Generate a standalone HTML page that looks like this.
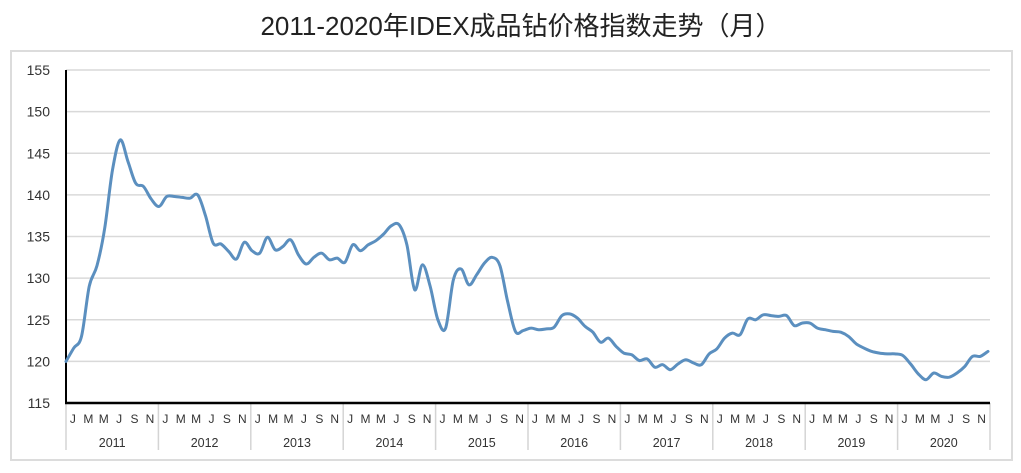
<!DOCTYPE html>
<html><head><meta charset="utf-8"><style>
html,body{margin:0;padding:0;background:#fff;}
svg{display:block;font-family:"Liberation Sans","Noto Sans CJK SC",sans-serif;}
</style></head><body>
<svg id="chart" width="1021" height="473" viewBox="0 0 1021 473" xmlns="http://www.w3.org/2000/svg">
<text x="521" y="35" text-anchor="middle" font-size="26" fill="#222">2011-2020年IDEX成品钻价格指数走势（月）</text>
<rect x="11" y="51" width="1001" height="409" fill="none" stroke="#dcdcdc" stroke-width="2"/>
<g id="grid"></g><g id="yticks"></g><g id="xaxis"></g><g id="series"></g>
</svg>
<script>
const years = ["2011","2012","2013","2014","2015","2016","2017","2018","2019","2020"];
const monthLabels = ["J","M","M","J","S","N"];
const yTicks = [115,120,125,130,135,140,145,150,155];
const values = [
120,121.6,123,129,131.5,136,143,146.6,144,141.4,141,139.5,
138.6,139.8,139.8,139.7,139.6,140,137.5,134.2,134.1,133.2,132.3,134.3,
133.3,133,134.9,133.4,133.8,134.6,132.8,131.7,132.5,133,132.2,132.4,
131.9,134,133.3,134,134.5,135.3,136.3,136.4,134,128.6,131.6,129,
125,124,129.8,131.1,129.2,130.4,131.8,132.5,131.5,127.2,123.6,123.7,
124,123.8,123.9,124.1,125.5,125.7,125.2,124.2,123.5,122.3,122.8,121.8,
121,120.8,120.1,120.3,119.3,119.6,119,119.7,120.2,119.8,119.6,120.9,
121.5,122.8,123.4,123.2,125.1,125,125.6,125.5,125.4,125.5,124.3,124.6,
124.6,124,123.8,123.6,123.5,123,122.1,121.6,121.2,121,120.9,120.9,
120.7,119.7,118.5,117.8,118.6,118.2,118.1,118.6,119.4,120.6,120.6,121.2];
const NS="http://www.w3.org/2000/svg";
const X0=66,X1=990,Y0=403,Y1=70,VMIN=115,VMAX=155;
const yScale=v=>Y0-(v-VMIN)/(VMAX-VMIN)*(Y0-Y1);
const xPoint=i=>X0+i*(X1-2-X0)/(values.length-1);
const yearW=(X1-X0)/years.length;
function mk(tag,attrs,parent){const e=document.createElementNS(NS,tag);for(const k in attrs)e.setAttribute(k,attrs[k]);parent.appendChild(e);return e;}
const grid=document.getElementById('grid'),yt=document.getElementById('yticks'),xa=document.getElementById('xaxis'),se=document.getElementById('series');
yTicks.forEach(t=>{
  if(t>VMIN){const l=mk('line',{x1:X0,x2:X1,y1:yScale(t),y2:yScale(t),stroke:'#d9d9d9','stroke-width':1.5},grid);
  
  }
  const tx=mk('text',{x:50,y:yScale(t)+5,'text-anchor':'end','font-size':14,fill:'#333'},yt);
  tx.textContent=t;
  
  
});
years.forEach((y,k)=>{
  const xs=X0+k*yearW;
  const sep=mk('line',{x1:xs,x2:xs,y1:Y0,y2:450,stroke:'#d4d4d4','stroke-width':1.5},xa);
  
  
  monthLabels.forEach((m,j)=>{
    const t=mk('text',{x:xs+(2*j+0.9)*yearW/12,y:423,'text-anchor':'middle','font-size':12,fill:'#333'},xa);
    t.textContent=m;
    
    
  });
  const yl=mk('text',{x:xs+yearW/2,y:447,'text-anchor':'middle','font-size':12.5,fill:'#333'},xa);
  yl.textContent=y;
  
  
});
const sepEnd=mk('line',{x1:X1,x2:X1,y1:Y0,y2:450,stroke:'#d4d4d4','stroke-width':1.5},xa);


const yax=mk('line',{x1:X0,x2:X0,y1:Y1,y2:Y0+1,stroke:'#000','stroke-width':2},xa);


const xax=mk('line',{x1:X0-1,x2:X1,y1:Y0,y2:Y0,stroke:'#000','stroke-width':2.5},xa);


const pts=values.map((v,i)=>[xPoint(i),yScale(v)]);
let d='M'+pts[0][0].toFixed(1)+' '+pts[0][1].toFixed(1);
for(let i=0;i<pts.length-1;i++){
  const p0=pts[Math.max(0,i-1)],p1=pts[i],p2=pts[i+1],p3=pts[Math.min(pts.length-1,i+2)];
  const c1x=p1[0]+(p2[0]-p0[0])/6,c1y=p1[1]+(p2[1]-p0[1])/6;
  const c2x=p2[0]-(p3[0]-p1[0])/6,c2y=p2[1]-(p3[1]-p1[1])/6;
  d+=' C'+c1x.toFixed(1)+' '+c1y.toFixed(1)+' '+c2x.toFixed(1)+' '+c2y.toFixed(1)+' '+p2[0].toFixed(1)+' '+p2[1].toFixed(1);
}
const path=mk('path',{d:d,fill:'none',stroke:'#5b8fbf','stroke-width':3,'stroke-linejoin':'round','stroke-linecap':'round'},se);


</script>
</body></html>
